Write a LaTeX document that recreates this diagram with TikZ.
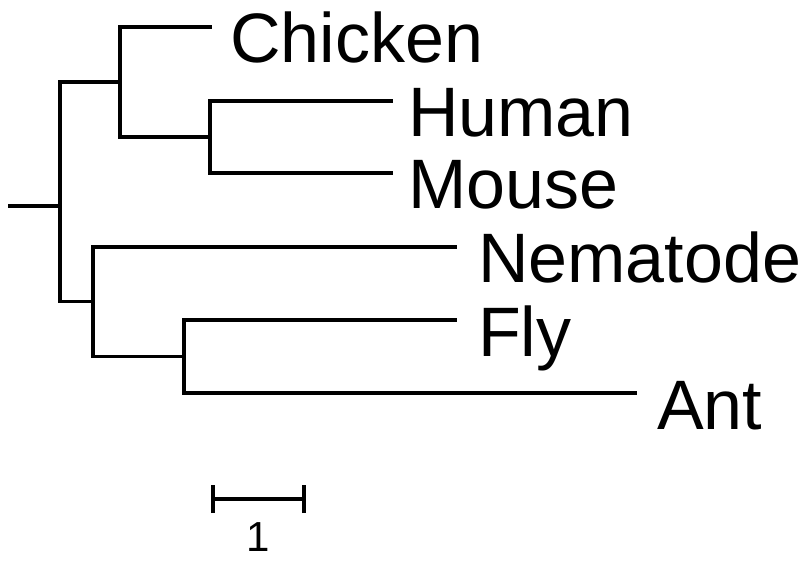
\documentclass[tikz,border=0pt]{standalone}
\usepackage{fontspec}
\setmainfont{Liberation Sans}
\begin{document}
\begin{tikzpicture}[x=1pt,y=-1pt,
  branch/.style={line width=3.3pt,line join=miter,line cap=butt},
  taxon/.style={anchor=base west,inner sep=0pt,font=\fontsize{70}{82}\selectfont},
  scalelab/.style={anchor=base,inner sep=0pt,font=\fontsize{42}{50}\selectfont}]
\useasboundingbox (0,0) rectangle (806,561);
% internal nodes
\coordinate (r0) at (8,206);
\coordinate (root) at (60,206);
\coordinate (A) at (120,82);
\coordinate (HM) at (210,137);
\coordinate (B) at (93,301.5);
\coordinate (FA) at (184,356.5);
% leaf tips
\coordinate (tChicken) at (212,27);
\coordinate (tHuman) at (393,101);
\coordinate (tMouse) at (393,173);
\coordinate (tNematode) at (457,247);
\coordinate (tFly) at (457,320);
\coordinate (tAnt) at (637,393);
% labels
\node[taxon] (lChicken) at (230,63) {Chicken};
\node[taxon] (lHuman) at (408,137) {Human};
\node[taxon] (lMouse) at (408,209) {Mouse};
\node[taxon] (lNematode) at (478,283) {Nematode};
\node[taxon] (lFly) at (478,356) {Fly};
\node[taxon] (lAnt) at (657,429) {Ant};
% branches
\draw[branch] (r0) -- (root);
\draw[branch] (root) |- (A);
\draw[branch] (root) |- (B);
\draw[branch] (A) |- (tChicken);
\draw[branch] (A) |- (HM);
\draw[branch] (HM) |- (tHuman);
\draw[branch] (HM) |- (tMouse);
\draw[branch] (B) |- (tNematode);
\draw[branch] (B) |- (FA);
\draw[branch] (FA) |- (tFly);
\draw[branch] (FA) |- (tAnt);
% scale bar
\coordinate (sbl) at (213,499);
\coordinate (sbr) at (304,499);
\draw[branch] (sbl) -- (sbr);
\draw[branch] ([yshift=-14pt]sbl) -- ([yshift=14pt]sbl);
\draw[branch] ([yshift=-14pt]sbr) -- ([yshift=14pt]sbr);
\node[scalelab] (lscale) at (258,551) {1};
\end{tikzpicture}
\end{document}
